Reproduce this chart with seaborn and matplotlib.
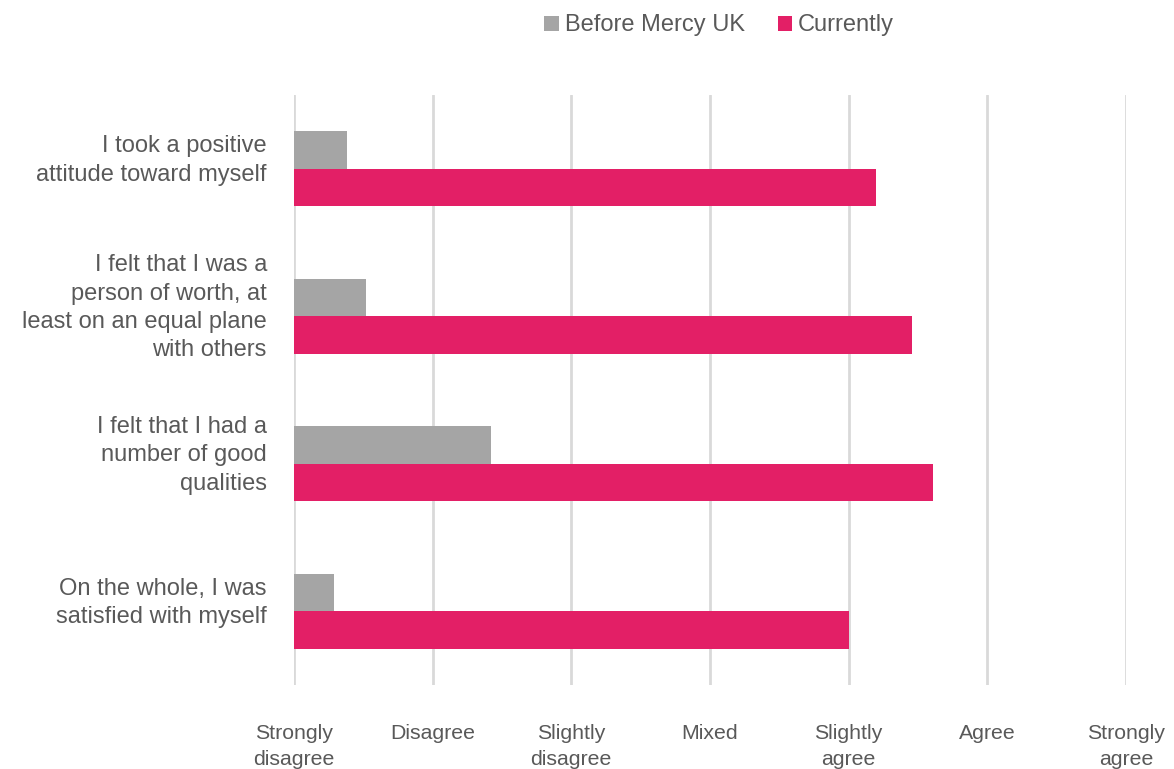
import matplotlib
matplotlib.use("Agg")
import matplotlib.pyplot as plt
import matplotlib.transforms as mtransforms
import seaborn as sns
import pandas as pd

# Survey statements (self-esteem items)
statements = [
    "I took a positive\nattitude toward myself",
    "I felt that I was a\nperson of worth, at\nleast on an equal plane\nwith others",
    "I felt that I had a\nnumber of good\nqualities",
    "On the whole, I was\nsatisfied with myself",
]
# Average ratings on a 1-7 agreement scale
before_scores = [1.38, 1.52, 2.42, 1.29]
current_scores = [5.20, 5.46, 5.61, 5.00]
series_names = ["Before Mercy UK", "Currently"]
scale_labels = ["Strongly\ndisagree", "Disagree", "Slightly\ndisagree", "Mixed",
                "Slightly\nagree", "Agree", "Strongly\nagree"]
scale_values = [1, 2, 3, 4, 5, 6, 7]

df = pd.DataFrame({
    "statement": statements * 2,
    "score": before_scores + current_scores,
    "period": [series_names[0]] * len(statements) + [series_names[1]] * len(statements),
})

sns.set_theme(style="white")
plt.rcParams["font.family"] = ["Liberation Sans", "DejaVu Sans"]

text_color = "#595959"
palette = {series_names[0]: "#A5A5A5", series_names[1]: "#E31F66"}

fig = plt.figure(figsize=(11.74, 7.69), dpi=100)
ax = fig.add_axes([0.2504, 0.1092, 0.7087, 0.7673])

sns.barplot(data=df, x="score", y="statement", hue="period", order=statements,
            hue_order=series_names, palette=palette, orient="h", width=0.51,
            saturation=1, ax=ax, edgecolor="none", linewidth=0)

ax.set_xlim(1, 7)
ax.set_ylim(3.5, -0.5)
ax.set_xticks(scale_values)
ax.set_xticklabels(scale_labels, fontsize=15.3, color=text_color, linespacing=1.5)
ax.tick_params(axis="x", length=0, pad=28)
ax.tick_params(axis="y", length=0, pad=19.5, labelsize=17, labelcolor=text_color)
shift_up = mtransforms.ScaledTranslation(0, 0.14, fig.dpi_scale_trans)
for lbl in ax.get_yticklabels():
    lbl.set_linespacing(1.37)
    lbl.set_transform(lbl.get_transform() + shift_up)
ax.set_xlabel("")
ax.set_ylabel("")
ax.grid(axis="x", color="#D9D9D9", linewidth=2)
ax.set_axisbelow(True)
for s in ax.spines.values():
    s.set_visible(False)

sns.move_legend(ax, "center", bbox_to_anchor=(0.6125, 0.967), bbox_transform=fig.transFigure,
                ncol=2, frameon=False, title=None, fontsize=17,
                handlelength=0.6, handleheight=0.6, handletextpad=0.25, columnspacing=1.4)
for t in ax.get_legend().get_texts():
    t.set_color(text_color)

fig.savefig("out.png", dpi=100)
